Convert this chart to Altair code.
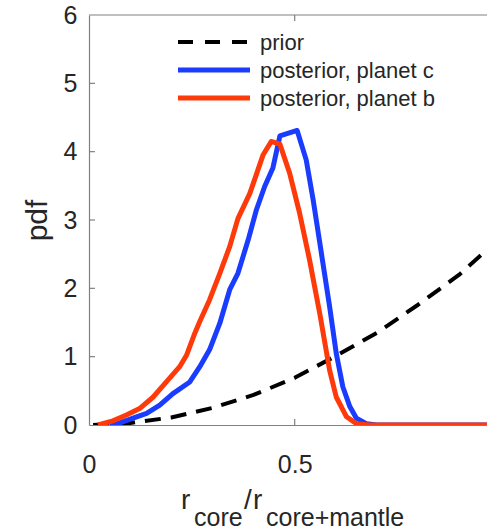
import altair as alt
import pandas as pd

# ---- data ----
series_names = ["prior", "posterior, planet c", "posterior, planet b"]
series_colors = ["#000000", "#1a3cff", "#ff3a0a"]

prior_x = [0.01, 0.1, 0.2, 0.3, 0.4, 0.5, 0.6, 0.7, 0.8, 0.9, 1.0]
prior_y = [0.0, 0.03, 0.11, 0.25, 0.44, 0.69, 1.01, 1.35, 1.76, 2.2, 2.74]

c_x = [0.05, 0.075, 0.107, 0.14, 0.172, 0.204, 0.245, 0.269, 0.293, 0.318, 0.342,
       0.362, 0.387, 0.407, 0.427, 0.447, 0.464, 0.506, 0.528, 0.545, 0.565, 0.585,
       0.601, 0.617, 0.634, 0.65, 0.674, 0.70, 1.0]
c_y = [0.0, 0.03, 0.1, 0.17, 0.29, 0.46, 0.63, 0.85, 1.10, 1.49, 1.98,
       2.22, 2.71, 3.15, 3.49, 3.76, 4.23, 4.31, 3.88, 3.29, 2.51, 1.73,
       1.05, 0.56, 0.27, 0.10, 0.02, 0.0, 0.0]

b_x = [0.022, 0.058, 0.091, 0.123, 0.156, 0.188, 0.22, 0.237, 0.257, 0.269, 0.293,
       0.318, 0.342, 0.362, 0.391, 0.423, 0.443, 0.464, 0.488, 0.512, 0.536, 0.561,
       0.585, 0.601, 0.626, 0.65, 0.68, 0.75, 1.0]
b_y = [0.0, 0.06, 0.146, 0.24, 0.41, 0.63, 0.85, 1.02, 1.34, 1.51, 1.83,
       2.22, 2.61, 3.02, 3.39, 3.95, 4.15, 4.11, 3.68, 3.10, 2.42, 1.63,
       0.80, 0.41, 0.12, 0.02, 0.0, 0.0, 0.0]

y_ticks = [0, 1, 2, 3, 4, 5, 6]
x_ticks = [0, 0.5]
x_domain = [0, 0.9675]
y_domain = [0, 6]

# ---- layout ----
W, H = 398, 410
FONT = "Liberation Sans"
TXT = "#262626"
AX = "#808080"

frames = []
for name, xs, ys in zip(series_names, [prior_x, c_x, b_x], [prior_y, c_y, b_y]):
    frames.append(pd.DataFrame({"x": xs, "y": ys, "series": name}))
df = pd.concat(frames, ignore_index=True)

xscale = alt.Scale(domain=x_domain, nice=False, zero=False)
yscale = alt.Scale(domain=y_domain, nice=False)

xaxis = alt.Axis(values=x_ticks, format="~g", ticks=False, tickSize=0, grid=False,
                 labelFlush=False, labelOverlap=False,
                 labelPadding=27, labelFontSize=25, labelFont=FONT, labelColor=TXT,
                 domainColor=AX, domainWidth=1.2, title=None)
yaxis = alt.Axis(values=y_ticks, format="d", ticks=False, tickSize=0, grid=False,
                 labelFlush=False, labelOverlap=False,
                 labelPadding=12, labelFontSize=25, labelFont=FONT, labelColor=TXT,
                 domainColor=AX, domainWidth=1.2,
                 title="pdf", titleFontSize=30, titleFont=FONT, titleColor=TXT,
                 titleFontWeight="normal", titleX=-37, titleY=H / 2, titleAngle=270,
                 titleBaseline="bottom", titleAlign="center")

layers = []

# inner tick marks and top frame line
ytick_df = pd.DataFrame({"v": y_ticks[1:-1]})
layers.append(alt.Chart(ytick_df).mark_rule(color=AX, strokeWidth=1.2).encode(
    y=alt.Y("v:Q", scale=yscale, axis=yaxis), x=alt.value(0), x2=alt.value(6)))
xtick_df = pd.DataFrame({"v": x_ticks[1:]})
layers.append(alt.Chart(xtick_df).mark_rule(color=AX, strokeWidth=1.2).encode(
    x=alt.X("v:Q", scale=xscale, axis=xaxis), y=alt.value(H), y2=alt.value(H - 6)))
layers.append(alt.Chart(xtick_df).mark_rule(color=AX, strokeWidth=1.2).encode(
    x=alt.X("v:Q", scale=xscale, axis=xaxis), y=alt.value(0), y2=alt.value(6)))
layers.append(alt.Chart(pd.DataFrame({"v": [y_domain[1]]})).mark_rule(color=AX, strokeWidth=1.2).encode(
    y=alt.Y("v:Q", scale=yscale, axis=yaxis), x=alt.value(0), x2=alt.value(W)))

# curves
for name, color in zip(series_names, series_colors):
    kw = dict(color=color, strokeWidth=5, clip=True, strokeJoin="round")
    if name == "prior":
        kw["strokeDash"] = [16, 10]
        kw["strokeWidth"] = 4
    layers.append(alt.Chart(df[df.series == name]).mark_line(**kw).encode(
        x=alt.X("x:Q", scale=xscale, axis=xaxis),
        y=alt.Y("y:Q", scale=yscale, axis=yaxis)))

# legend
leg_y = [27, 55, 83]
for name, color, ly in zip(series_names, series_colors, leg_y):
    rkw = dict(color=color, strokeWidth=5)
    if name == "prior":
        rkw["strokeDash"] = [15, 12]
        rkw["strokeWidth"] = 4
    layers.append(alt.Chart(pd.DataFrame({"label": [name]})).mark_rule(**rkw).encode(
        x=alt.value(89), x2=alt.value(161), y=alt.value(ly)))
    layers.append(alt.Chart(pd.DataFrame({"label": [name]})).mark_text(
        font=FONT, fontSize=22, color=TXT, align="left", baseline="middle").encode(
        text="label:N", x=alt.value(171), y=alt.value(ly + 1)))

# x-axis title with subscripts
title_parts = [("r", 28, 92, 494), ("core", 25, 105, 511), ("/", 28, 155, 494),
               ("r", 28, 164, 494), ("core+mantle", 25, 177, 511)]
for txt, fs, tx, ty in title_parts:
    layers.append(alt.Chart(pd.DataFrame({"t": [txt]})).mark_text(
        font=FONT, fontSize=fs, color=TXT, align="left", baseline="alphabetic").encode(
        text="t:N", x=alt.value(tx), y=alt.value(ty)))

chart = alt.layer(*layers).properties(
    width=W, height=H,
    autosize=alt.AutoSizeParams(type="none"),
    padding={"left": 89, "top": 15, "right": 0, "bottom": 106},
    background="white",
).configure_view(stroke=None)

chart.save("out.html", embed_options={"renderer": "svg", "actions": False})
